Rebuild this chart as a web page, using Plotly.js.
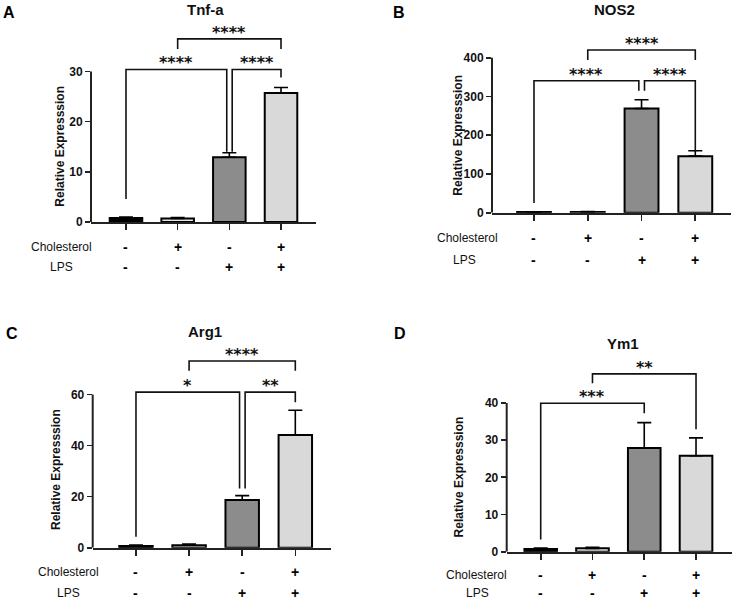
<!DOCTYPE html>
<html>
<head>
<meta charset="utf-8">
<script src="https://cdn.plot.ly/plotly-3.0.1.min.js"></script>
<style>html,body{margin:0;padding:0;background:#fff;}#chart{width:733px;height:602px;}</style>
</head>
<body>
<div id="chart"></div>
<script>
// ---------- data ----------
const barPositions = [0, 1, 2, 3];
const cholesterolSigns = ['-', '+', '-', '+'];
const lpsSigns = ['-', '-', '+', '+'];
const barColors = ['#000000', '#e6e6e6', '#8c8c8c', '#d9d9d9'];

const tnfTitle = 'Tnf-a';
const tnfMean = [0.8, 0.7, 12.9, 25.7];
const tnfErr = [0.2, 0.2, 0.9, 1.1];
const tnfTicks = [0, 10, 20, 30];
// [from, to, bracket height, left leg end, right leg end, label]
const tnfBrackets = [[0, 2, 30.4, 4.6, 14.0, '****'], [2, 3, 30.4, 14.0, 28.8, '****'], [1, 3, 36.5, 34.5, 34.5, '****']];

const nosTitle = 'NOS2';
const nosMean = [1.5, 2, 269, 146];
const nosErr = [0.5, 1, 22.6, 14];
const nosTicks = [0, 100, 200, 300, 400];
const nosBrackets = [[0, 2, 340.6, 25, 314.8, '****'], [2, 3, 340.6, 314.8, 157, '****'], [1, 3, 420, 394, 394, '****']];

const argTitle = 'Arg1';
const argMean = [0.7, 1.0, 18.7, 44.1];
const argErr = [0.3, 0.4, 1.7, 9.7];
const argTicks = [0, 20, 40, 60];
const argBrackets = [[0, 2, 60.9, 4.3, 23.2, '*'], [2, 3, 60.9, 23.2, 56.9, '**'], [1, 3, 73.1, 69.3, 69.3, '****']];

const ymTitle = 'Ym1';
const ymMean = [0.7, 0.9, 27.9, 25.8];
const ymErr = [0.3, 0.3, 6.8, 4.8];
const ymTicks = [0, 10, 20, 30, 40];
const ymBrackets = [[0, 2, 39.9, 3.3, 37.2, '***'], [1, 3, 47.8, 45.3, 32.9, '**']];

const yTitleText = 'Relative Expresssion';
const rowLabels = ['Cholesterol', 'LPS'];
const panelLetters = ['A', 'B', 'C', 'D'];

// ---------- layout geometry (pixels) ----------
const W = 733, H = 602;
const panels = [
  {mean: tnfMean, err: tnfErr, ticks: tnfTicks, brackets: tnfBrackets, title: tnfTitle,
   xL: 91, xR: 316, xr: [-0.677, 3.677], y0: 222, ppu: 5.017, ymax: 38,
   tX: 205, tY: 9.5, lX: 9, lY: 13, ytX: 60, ytY: 146.7, cholX: 61, lpsX: 61, cholY: 246.7, lpsY: 267.3},
  {mean: nosMean, err: nosErr, ticks: nosTicks, brackets: nosBrackets, title: nosTitle,
   xL: 492, xR: 731, xr: [-0.781, 3.664], y0: 212.7, ppu: 0.3875, ymax: 430,
   tX: 614, tY: 9.5, lX: 399, lY: 13, ytX: 457.7, ytY: 135, cholX: 467.7, lpsX: 464.7, cholY: 238.3, lpsY: 260},
  {mean: argMean, err: argErr, ticks: argTicks, brackets: argBrackets, title: argTitle,
   xL: 92.7, xR: 331, xr: [-0.815, 3.672], y0: 547.7, ppu: 2.555, ymax: 75,
   tX: 204.7, tY: 331.5, lX: 11.7, lY: 333.5, ytX: 56, ytY: 470, cholX: 68.8, lpsX: 68.3, cholY: 572.2, lpsY: 593},
  {mean: ymMean, err: ymErr, ticks: ymTicks, brackets: ymBrackets, title: ymTitle,
   xL: 506.7, xR: 732, xr: [-0.657, 3.695], y0: 551.7, ppu: 3.72, ymax: 49,
   tX: 622.7, tY: 343, lX: 399.8, lY: 333.8, ytX: 458.7, ytY: 476.7, cholX: 476, lpsX: 477, cholY: 574.5, lpsY: 593}
];

const px = x => x / W;
const py = y => 1 - y / H;
const axisColor = '#222';
const sans = 'Liberation Sans, Arial, sans-serif';
const tickFont = {family: sans, size: 12, color: '#111', weight: 'bold'};

const traces = [];
const layout = {
  width: W, height: H, margin: {l: 0, r: 0, t: 0, b: 0},
  paper_bgcolor: '#fff', plot_bgcolor: '#fff', showlegend: false,
  annotations: [], shapes: []
};

panels.forEach((p, i) => {
  const n = i + 1;
  const xa = 'x' + (n === 1 ? '' : n), ya = 'y' + (n === 1 ? '' : n);
  const xk = 'xaxis' + (n === 1 ? '' : n), yk = 'yaxis' + (n === 1 ? '' : n);
  const top = p.y0 - p.ymax * p.ppu;

  traces.push({
    type: 'bar', x: barPositions, y: p.mean, xaxis: xa, yaxis: ya, width: 0.63,
    marker: {color: barColors, line: {color: '#000', width: 2}},
    error_y: {type: 'data', symmetric: false, array: p.err, arrayminus: p.err.map(() => 0),
              color: '#000', thickness: 1.6, width: 7},
    hoverinfo: 'skip'
  });

  layout[xk] = {
    domain: [px(p.xL), px(p.xR)], range: p.xr, anchor: ya,
    showgrid: false, zeroline: false, showline: true, linecolor: axisColor, linewidth: 2,
    tickvals: barPositions, showticklabels: false, ticks: 'outside', ticklen: 6, tickwidth: 1.6, tickcolor: axisColor,
    fixedrange: true
  };
  layout[yk] = {
    domain: [py(p.y0), py(top)], range: [0, p.ymax], anchor: xa,
    showgrid: false, zeroline: false, showline: false,
    tickvals: p.ticks, ticktext: p.ticks.map(String), ticks: 'outside', ticklen: 5, tickwidth: 1.6, tickcolor: axisColor,
    tickfont: tickFont, fixedrange: true
  };

  // y axis line, only up to the last tick
  layout.shapes.push({type: 'line', xref: xa + ' domain', yref: ya, x0: 0, x1: 0, y0: 0,
    y1: p.ticks[p.ticks.length - 1], line: {color: axisColor, width: 2}});

  // significance brackets
  p.brackets.forEach(b => {
    const [a, c, h, la, lc, label] = b;
    // shift bracket ends apart where two brackets meet on the same bar at the same height
    const shareRight = p.brackets.some(o => o !== b && o[0] === c && o[2] === h);
    const shareLeft = p.brackets.some(o => o !== b && o[1] === a && o[2] === h);
    const xa0 = a + (shareLeft ? 0.055 : 0);
    const xc0 = c - (shareRight ? 0.05 : 0);
    layout.shapes.push({type: 'path', xref: xa, yref: ya,
      path: `M ${xa0},${la} L ${xa0},${h} L ${xc0},${h} L ${xc0},${lc}`,
      line: {color: '#111', width: 1.6}});
    layout.annotations.push({xref: xa, yref: ya, x: (xa0 + xc0) / 2, y: h, yanchor: 'middle', xanchor: 'center',
      yshift: 6.5, text: label, showarrow: false,
      font: {family: 'DejaVu Sans, sans-serif', size: 16, color: '#111', weight: 'bold'}});
  });

  // titles
  layout.annotations.push({xref: 'paper', yref: 'paper', x: px(p.tX), y: py(p.tY), xanchor: 'center', yanchor: 'middle',
    text: p.title, showarrow: false, font: {family: sans, size: 15, color: '#111', weight: 'bold'}});
  layout.annotations.push({xref: 'paper', yref: 'paper', x: px(p.lX), y: py(p.lY), xanchor: 'center', yanchor: 'middle',
    text: panelLetters[i], showarrow: false, font: {family: sans, size: 16, color: '#000', weight: 'bold'}});
  layout.annotations.push({xref: 'paper', yref: 'paper', x: px(p.ytX), y: py(p.ytY), xanchor: 'center', yanchor: 'middle',
    textangle: -90, text: yTitleText, showarrow: false,
    font: {family: sans, size: 12, color: '#111', weight: 'bold'}});

  // treatment rows
  layout.annotations.push({xref: 'paper', yref: 'paper', x: px(p.cholX), y: py(p.cholY), xanchor: 'center', yanchor: 'middle',
    text: rowLabels[0], showarrow: false, borderpad: 0, font: {family: sans, size: 12, color: '#111'}});
  layout.annotations.push({xref: 'paper', yref: 'paper', x: px(p.lpsX), y: py(p.lpsY), xanchor: 'center', yanchor: 'middle',
    text: rowLabels[1], showarrow: false, borderpad: 0, font: {family: sans, size: 12, color: '#111'}});
  barPositions.forEach((bx, k) => {
    layout.annotations.push({xref: xa, yref: 'paper', x: bx, y: py(p.cholY), xanchor: 'center', yanchor: 'middle',
      text: cholesterolSigns[k], showarrow: false, borderpad: 0, font: {family: sans, size: 14, color: '#000', weight: 'bold'}});
    layout.annotations.push({xref: xa, yref: 'paper', x: bx, y: py(p.lpsY), xanchor: 'center', yanchor: 'middle',
      text: lpsSigns[k], showarrow: false, borderpad: 0, font: {family: sans, size: 14, color: '#000', weight: 'bold'}});
  });
});

Plotly.newPlot('chart', traces, layout, {staticPlot: true, displayModeBar: false});
</script>
</body>
</html>
